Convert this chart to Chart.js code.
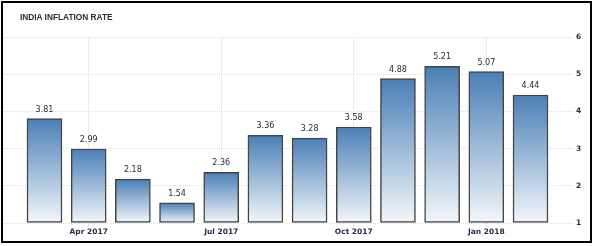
<!DOCTYPE html>
<html>
<head>
<meta charset="utf-8">
<script src="https://cdn.jsdelivr.net/npm/chart.js@4/dist/chart.umd.min.js"></script>
<style>
  body { margin: 0; background: #fff; }
  #wrap { position: relative; width: 593px; height: 246px; }
  #frame { position: absolute; left: 1px; top: 1px; width: 587px; height: 238px; border: 2px solid #000; pointer-events: none; }
  #titulo { position: absolute; left: 20px; top: 12px; font: bold 8.3px "Liberation Sans", Arial, sans-serif; color: #2a2a3a; line-height: 10px; }
</style>
</head>
<body>
<div id="wrap">
  <canvas id="grafica"></canvas>
  <div id="frame"></div>
  <div id="titulo">INDIA INFLATION RATE</div>
</div>
<script>
// datos
var months = ["Mar 2017", "Apr 2017", "May 2017", "Jun 2017", "Jul 2017", "Aug 2017",
              "Sep 2017", "Oct 2017", "Nov 2017", "Dec 2017", "Jan 2018", "Feb 2018"];
var inflation = [3.81, 2.99, 2.18, 1.54, 2.36, 3.36, 3.28, 3.58, 4.88, 5.21, 5.07, 4.44];
var tickMonths = ["Apr 2017", "Jul 2017", "Oct 2017", "Jan 2018"];
var yTicks = [1, 2, 3, 4, 5, 6];

var textColor = "#2c2c44";

// gradiente por barra
function barGradient(ctx) {
    var chart = ctx.chart;
    if (!chart.chartArea || ctx.dataIndex === undefined) return "#4a7fb6";
    var y = chart.scales.y;
    var top = y.getPixelForValue(inflation[ctx.dataIndex]);
    var bottom = y.getPixelForValue(yTicks[0]);
    var g = chart.ctx.createLinearGradient(0, top, 0, bottom);
    g.addColorStop(0, "#4a7fb6");
    g.addColorStop(1, "#f3f7fb");
    return g;
}

// etiquetas encima de las barras
var valueLabels = {
    id: "valueLabels",
    afterDatasetsDraw: function (chart) {
        var c = chart.ctx;
        var meta = chart.getDatasetMeta(0);
        c.save();
        c.font = "8px 'DejaVu Sans'";
        c.fillStyle = "#2a2a3a";
        c.textAlign = "center";
        c.textBaseline = "middle";
        meta.data.forEach(function (bar, i) {
            c.fillText(inflation[i].toFixed(2), bar.x, bar.y - 9);
        });
        c.restore();
    }
};

new Chart("grafica", {
    type: "bar",
    data: {
        datasets: [{
            data: inflation.map(function (v, i) { return { x: i, y: v }; }),
            base: yTicks[0],
            barThickness: 35,
            backgroundColor: barGradient,
            borderColor: "#444",
            borderWidth: 1.5,
            borderSkipped: false
        }]
    },
    plugins: [valueLabels],
    options: {
        responsive: true,
        maintainAspectRatio: false,
        animation: false,
        layout: { padding: { left: 3, top: 37, right: 0, bottom: 0 } },
        plugins: { legend: { display: false }, tooltip: { enabled: false } },
        scales: {
            x: {
                type: "linear",
                offset: false,
                min: -0.939,
                max: 11.894,
                afterBuildTicks: function (scale) {
                    scale.ticks = tickMonths.map(function (m) { return { value: months.indexOf(m) }; });
                },
                afterFit: function (scale) { scale.height = 23; },
                ticks: {
                    callback: function (v) { return months[v]; },
                    font: { family: "DejaVu Sans", size: 7.5, weight: "bold" },
                    color: textColor,
                    padding: 1,
                    maxRotation: 0
                },
                grid: { color: "#ebebeb", tickLength: 4, offset: false },
                border: { display: false }
            },
            y: {
                position: "right",
                min: 1,
                max: 6,
                afterBuildTicks: function (scale) {
                    scale.ticks = yTicks.map(function (v) { return { value: v }; });
                },
                afterFit: function (scale) { scale.width = 23; },
                ticks: {
                    font: { family: "DejaVu Sans", size: 7.5, weight: "bold" },
                    color: textColor,
                    padding: 2
                },
                grid: { color: "#dedede", tickLength: 4, tickBorderDash: [1, 1] },
                border: { display: false, dash: [1, 1] }
            }
        }
    }
});
</script>
</body>
</html>
